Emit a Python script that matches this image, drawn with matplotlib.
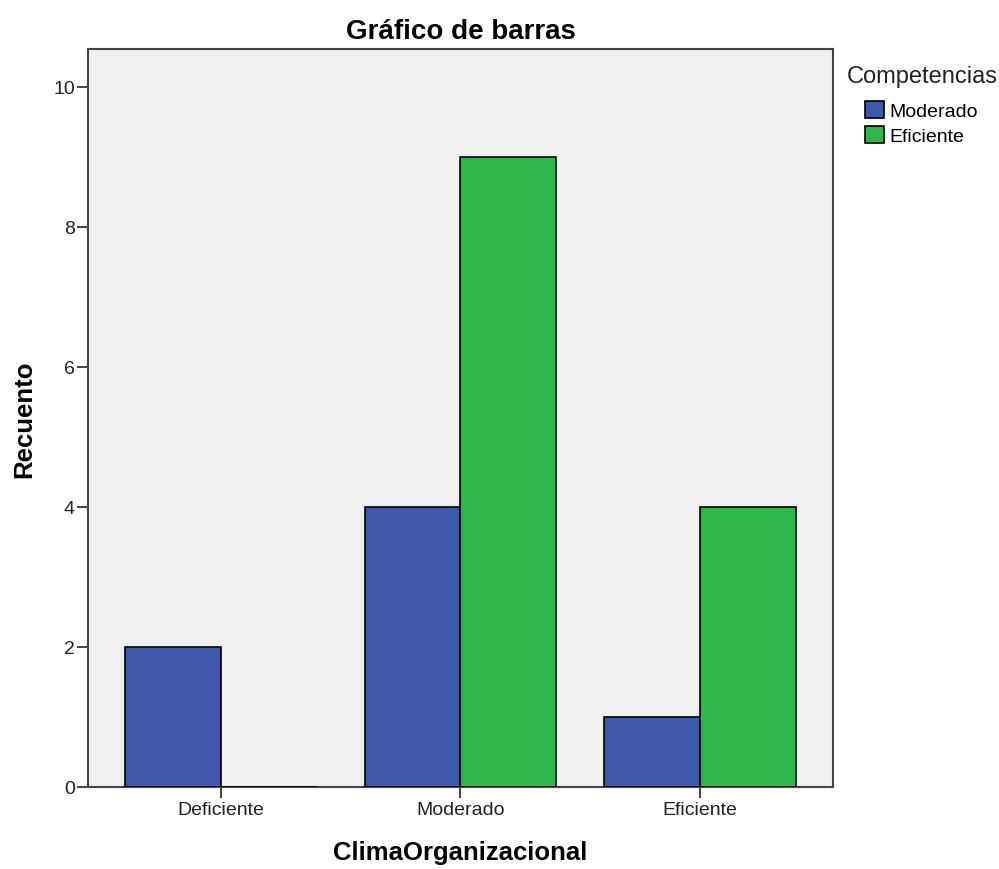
'''
Bar chart: ClimaOrganizacional vs Competencias counts
'''

import numpy as np
import matplotlib
matplotlib.use('Agg')
import matplotlib.pyplot as plt
from matplotlib.patches import Patch

##################################
# data

categories=['Deficiente','Moderado','Eficiente']
series=['Moderado','Eficiente']
moderado=[2,4,1]
eficiente=[0,9,4]
yTicks=[0,2,4,6,8,10]

colours=['#3E58AC','#2EB84B']

###########################################

plt.rcParams['font.family']=['Liberation Sans','DejaVu Sans']

W,H=999.,870.
fig=plt.figure(figsize=(W/100,H/100),dpi=100)
ax=fig.add_axes([88/W,1-788/H,745/W,738/H])
ax.set_facecolor('#F0F0F0')

x=np.arange(len(categories))
width=0.4
for j,(vals,name) in enumerate(zip([moderado,eficiente],series)):
  ax.bar(x+(j-0.5)*width,vals,width=width,color=colours[j],edgecolor='black',
         linewidth=1.2,label=name,zorder=3)

ax.set_xlim(-0.555,2.555)
ax.set_ylim(0,10.54)
ax.set_xticks(x)
ax.set_xticklabels(categories,fontsize=14,color='#222222')
ax.set_yticks(yTicks)
ax.set_yticklabels([str(t) for t in yTicks],fontsize=14,color='#222222')
ax.tick_params(axis='both',direction='out',length=8,width=1.3,color='#333333')
ax.tick_params(axis='y',pad=1.5)
ax.tick_params(axis='x',pad=2)

for s in ax.spines.values():
  s.set_color('#444444')
  s.set_linewidth(1.5)

ax.set_title('Gráfico de barras',fontsize=20,fontweight='bold',pad=8)
ax.set_ylabel('Recuento',fontsize=18.5,fontweight='bold',labelpad=12)
ax.set_xlabel('ClimaOrganizacional',fontsize=18.5,fontweight='bold',labelpad=16)

# legend: title as separate text, entries indented
fig.text(847/W,1-77/H,'Competencias',fontsize=17,va='center',ha='left',color='#222222')
handles=[Patch(facecolor=colours[j],edgecolor='black',linewidth=1.2) for j in range(len(series))]
fig.legend(handles,series,loc='upper left',bbox_to_anchor=(865/W,1-102/H),
           bbox_transform=fig.transFigure,frameon=False,fontsize=14,
           handlelength=1.0,handleheight=1.0,handletextpad=0.25,labelspacing=0.28,
           borderpad=0,borderaxespad=0)

plt.savefig('out.png',dpi=100)
plt.close()
